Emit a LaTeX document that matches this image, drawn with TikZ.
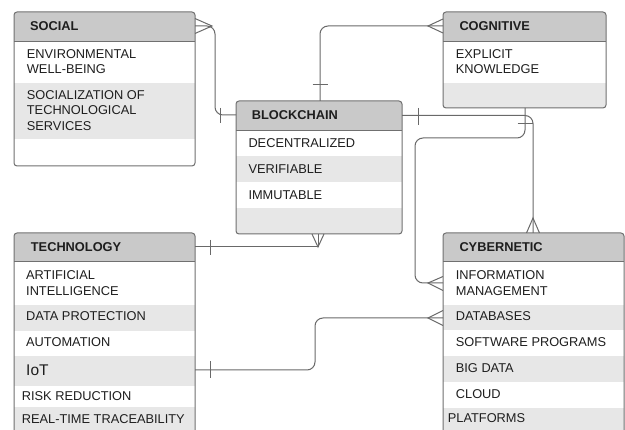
\documentclass[tikz,border=0pt]{standalone}
\usepackage{fontspec}
\setmainfont{Liberation Sans}
\usetikzlibrary{calc}
\definecolor{hdr}{RGB}{201,201,201}
\definecolor{rowg}{RGB}{231,231,231}
\definecolor{bord}{RGB}{112,112,112}
\definecolor{connc}{RGB}{105,105,105}
\definecolor{txt}{RGB}{30,30,30}
\tikzset{
  erbox/.style={draw=bord, line width=1pt, rounded corners=3pt, inner sep=0pt, outer sep=0pt, anchor=north west, minimum width=181pt},
  sepline/.style={draw=bord, line width=1pt},
  hd/.style={anchor=base west, inner sep=0pt, font=\fontsize{12.8}{15.7}\selectfont\bfseries, text=txt},
  it/.style={anchor=base west, inner sep=0pt, font=\fontsize{12.8}{15.7}\selectfont, text=txt},
  big/.style={anchor=base west, inner sep=0pt, font=\fontsize{15.5}{18}\selectfont, text=txt},
  conn/.style={draw=connc, line width=1pt},
  rconn/.style={draw=connc, line width=1pt, rounded corners=8pt},
}
\begin{document}
\begin{tikzpicture}[x=1pt,y=-1pt]
\useasboundingbox (0,0) rectangle (625,430);
\fill[white] (0,0) rectangle (625,430);
\clip (0,0) rectangle (625,430);

% ---------- SOCIAL ----------
\begin{scope}
  \clip[rounded corners=3pt] (14,12) rectangle (195,166);
  \fill[hdr] (14,12) rectangle (195,42);
  \fill[rowg] (14,83) rectangle (195,139);
\end{scope}
\draw[sepline] (14,42) -- (195,42);
\node[erbox, minimum height=154pt] (social) at (14,12) {};
\node[hd] (socialT) at (30,30.7) {SOCIAL};
\node[it] (s1a) at (26.7,58.3) {ENVIRONMENTAL};
\node[it] (s1b) at (26.7,74) {WELL-BEING};
\node[it] (s2a) at (26.7,99.3) {SOCIALIZATION OF};
\node[it] (s2b) at (26.7,115) {TECHNOLOGICAL};
\node[it] (s2c) at (26.7,130.7) {SERVICES};

% ---------- COGNITIVE ----------
\begin{scope}
  \clip[rounded corners=3pt] (443,12) rectangle (606,108);
  \fill[hdr] (443,12) rectangle (606,42);
  \fill[rowg] (443,83) rectangle (606,108);
\end{scope}
\draw[sepline] (443,42) -- (606,42);
\node[erbox, minimum width=163pt, minimum height=96pt] (cognitive) at (443,12) {};
\node[hd] (cognitiveT) at (459.3,30.7) {COGNITIVE};
\node[it] (c1a) at (455.7,58.3) {EXPLICIT};
\node[it] (c1b) at (455.7,74) {KNOWLEDGE};

% ---------- BLOCKCHAIN ----------
\begin{scope}
  \clip[rounded corners=3pt] (236,101) rectangle (402,234);
  \fill[hdr] (236,101) rectangle (402,131);
  \fill[rowg] (236,156) rectangle (402,182);
  \fill[rowg] (236,208) rectangle (402,234);
\end{scope}
\draw[sepline] (236,131) -- (402,131);
\node[erbox, minimum width=166pt, minimum height=133pt] (blockchain) at (236,101) {};
\node[hd] (blockchainT) at (251.7,119.3) {BLOCKCHAIN};
\node[it] (b1) at (248.3,147.3) {DECENTRALIZED};
\node[it] (b2) at (248.3,173.3) {VERIFIABLE};
\node[it] (b3) at (248.3,199.3) {IMMUTABLE};

% ---------- TECHNOLOGY ----------
\begin{scope}
  \clip[rounded corners=3pt] (14,233) rectangle (195,440);
  \fill[hdr] (14,233) rectangle (195,262);
  \fill[rowg] (14,305) rectangle (195,331);
  \fill[rowg] (14,356) rectangle (195,386);
  \fill[rowg] (14,407) rectangle (195,440);
\end{scope}
\draw[sepline] (14,262) -- (195,262);
\node[erbox, minimum height=207pt] (technology) at (14,233) {};
\node[hd] (technologyT) at (30.7,251.7) {TECHNOLOGY};
\node[it] (t1a) at (26,279.3) {ARTIFICIAL};
\node[it] (t1b) at (26,295.3) {INTELLIGENCE};
\node[it] (t2) at (26,321) {DATA PROTECTION};
\node[it] (t3) at (26,347) {AUTOMATION};
\node[big] (t4) at (26,375.7) {IoT};
\node[it] (t5) at (21.7,400.3) {RISK REDUCTION};
\node[it] (t6) at (21.7,423.3) {REAL-TIME TRACEABILITY};

% ---------- CYBERNETIC ----------
\begin{scope}
  \clip[rounded corners=3pt] (443,233) rectangle (624,440);
  \fill[hdr] (443,233) rectangle (624,262);
  \fill[rowg] (443,305) rectangle (624,330);
  \fill[rowg] (443,356) rectangle (624,382);
  \fill[rowg] (443,408) rectangle (624,440);
\end{scope}
\draw[sepline] (443,262) -- (624,262);
\node[erbox, minimum height=207pt] (cybernetic) at (443,233) {};
\node[hd] (cyberneticT) at (459.3,251.7) {CYBERNETIC};
\node[it] (y1a) at (455.7,279.3) {INFORMATION};
\node[it] (y1b) at (455.7,295.3) {MANAGEMENT};
\node[it] (y2) at (455.7,321) {DATABASES};
\node[it] (y3) at (455.7,347) {SOFTWARE PROGRAMS};
\node[it] (y4) at (455.7,373) {BIG DATA};
\node[it] (y5) at (455.7,399) {CLOUD};
\node[it] (y6) at (447.7,422.3) {PLATFORMS};

% ---------- CONNECTORS ----------
% social -- blockchain
\draw[rconn] ($(social.north east)+(0,14)$) -- ++(20,0) |- ($(blockchain.north west)+(0,14)$);
\draw[conn] ($(social.north east)+(0,6.5)$) -- ($(social.north east)+(17,14)$) -- ($(social.north east)+(0,21.5)$);
\draw[conn] ($(blockchain.north west)+(-16,7)$) -- ++(0,15);

% cognitive -- blockchain
\draw[rconn] ($(cognitive.north west)+(0,14)$) -| ($(blockchain.north west)+(84,0)$);
\draw[conn] ($(cognitive.north west)+(0,7)$) -- ($(cognitive.north west)+(-15,14)$) -- ($(cognitive.north west)+(0,21)$);
\draw[conn] ($(blockchain.north west)+(76.5,-16)$) -- ++(15,0);

% blockchain -- technology
\draw[conn] ($(blockchain.south west)+(82,0)$) |- ($(technology.north east)+(0,14)$);
\draw[conn] ($(blockchain.south west)+(76,0)$) -- ($(blockchain.south west)+(82,13)$) -- ($(blockchain.south west)+(88,0)$);
\draw[conn] ($(technology.north east)+(15,7)$) -- ++(0,15);

% blockchain -- cybernetic
\draw[rconn] ($(blockchain.north east)+(0,14.5)$) -| ($(cybernetic.north west)+(90,0)$);
\draw[conn] ($(cybernetic.north west)+(83.5,0)$) -- ($(cybernetic.north west)+(90,-15)$) -- ($(cybernetic.north west)+(96.5,0)$);
\draw[conn] ($(blockchain.north east)+(16,7)$) -- ++(0,17);

% cognitive -- cybernetic
\draw[rconn] ($(cognitive.south west)+(82,0)$) -- ++(0,30) -- ++(-110,0) |- ($(cybernetic.north west)+(0,50)$);
\draw[conn] ($(cognitive.south west)+(74.5,15.5)$) -- ++(15,0);
\draw[conn] ($(cybernetic.north west)+(0,43.5)$) -- ($(cybernetic.north west)+(-15,50)$) -- ($(cybernetic.north west)+(0,57.5)$);

% technology (IoT) -- cybernetic
\draw[rconn] ($(technology.north east)+(0,137)$) -- ++(120,0) |- ($(cybernetic.north west)+(0,85)$);
\draw[conn] ($(technology.north east)+(15,128.5)$) -- ++(0,17);
\draw[conn] ($(cybernetic.north west)+(0,77.5)$) -- ($(cybernetic.north west)+(-15,85)$) -- ($(cybernetic.north west)+(0,92.5)$);
\end{tikzpicture}
\end{document}
